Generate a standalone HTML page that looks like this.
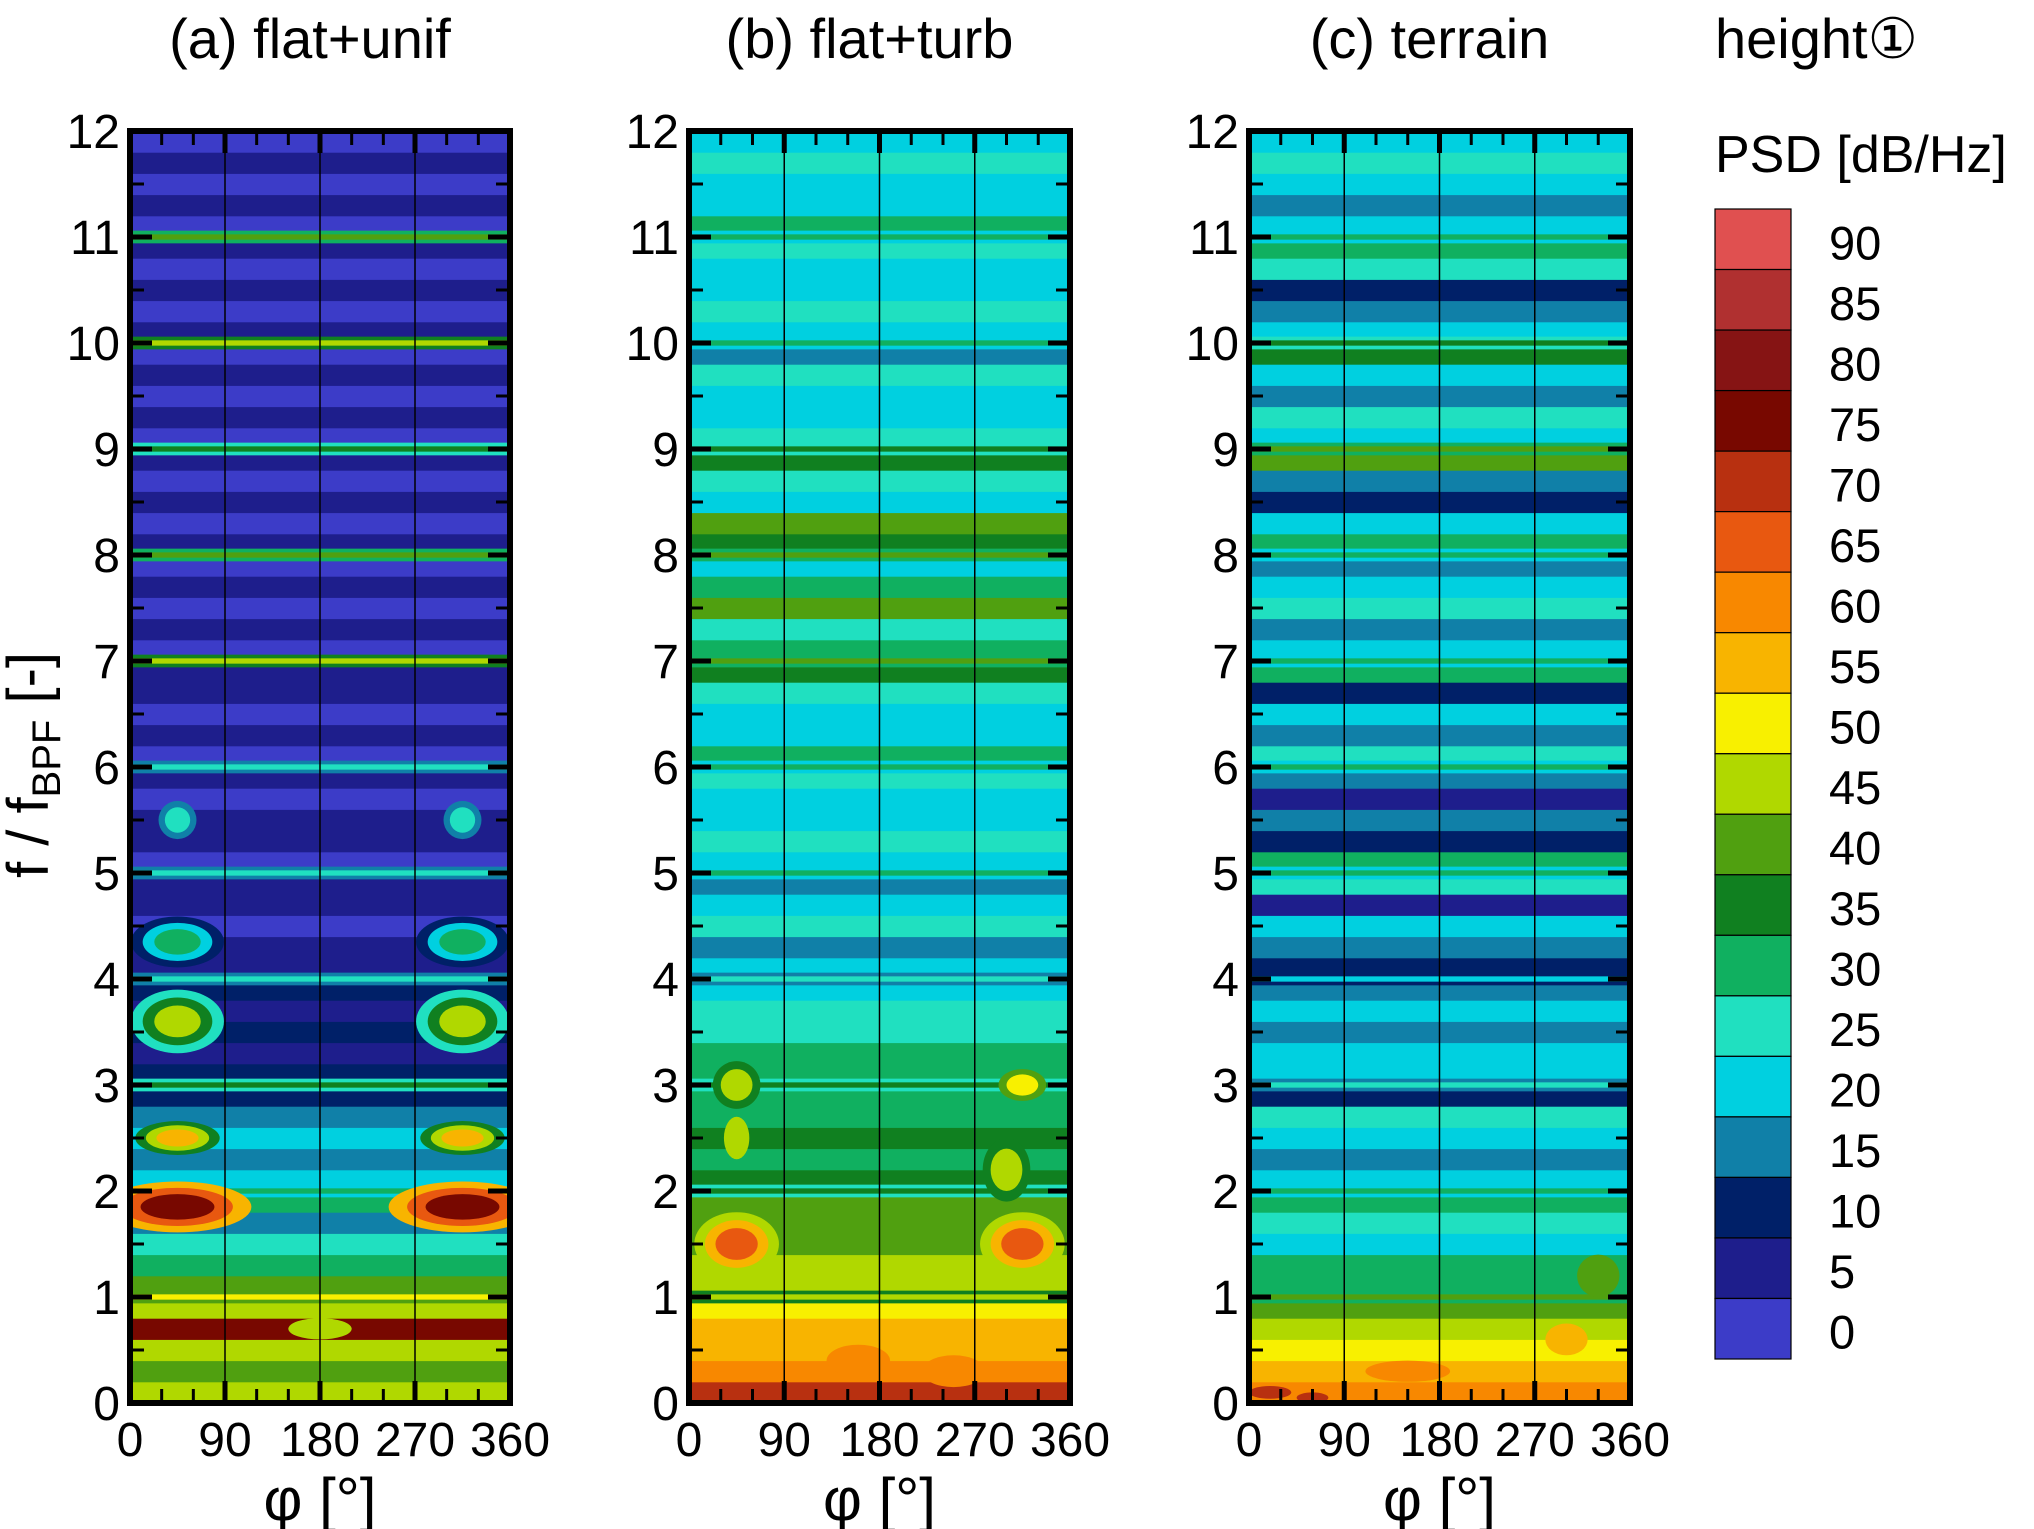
<!DOCTYPE html>
<html><head><meta charset="utf-8"><style>
body{margin:0;background:#fff;}
svg{display:block;font-family:"Liberation Sans",sans-serif;}
</style></head><body>
<svg id="fig" width="2034" height="1529" viewBox="0 0 2034 1529" xmlns="http://www.w3.org/2000/svg">
<defs id="defs"></defs>
<g id="panels"></g>
<g id="cbar"></g>
<text x="1715" y="58" font-size="56">height①</text>
<text x="1715" y="172" font-size="52">PSD [dB/Hz]</text>
<text transform="translate(48,765) rotate(-90)" text-anchor="middle" font-size="58">f / f<tspan font-size="40" dy="12">BPF</tspan><tspan dy="-12"> [-]</tspan></text>
</svg>
<script>
// colour levels (0..90 dB/Hz, step 5)
const levels=[0,5,10,15,20,25,30,35,40,45,50,55,60,65,70,75,80,85,90];
const colors=["#3c3cc8","#1e1e8c","#002068","#1080a8","#00d0e0","#20e0c0","#10b060","#108020","#50a010","#b0d800","#f8f000","#f8b400","#f88800","#e85810","#b83010","#780800","#861414","#b03030","#e05050"];
const titles=["(a) flat+unif","(b) flat+turb","(c) terrain"];
const xTicks=[0,90,180,270,360];
const yTicks=[0,1,2,3,4,5,6,7,8,9,10,11,12];
// base PSD per frequency bin (f = 0..12, step 0.2), bottom to top
const baseA=[45,40,45,75,45,40,30,25,15,30,20,15,20,15,10,10,5,10,5,10,5,5,0,5,5,0,5,5,0,5,0,5,0,5,5,0,5,0,5,0,5,0,5,0,5,0,5,0,5,0,5,0,5,0,5,0,5,0,5,0];
const baseB=[70,60,55,55,50,45,45,40,40,40,35,30,35,30,30,30,30,25,25,20,20,15,25,20,15,20,25,20,20,25,30,20,20,25,35,30,25,40,30,20,35,40,20,25,35,25,20,20,25,15,20,25,20,20,25,30,20,20,25,20];
const baseC=[60,55,50,45,40,30,30,20,25,30,20,15,20,25,10,20,20,15,20,15,10,15,20,5,25,30,10,15,5,15,25,15,20,10,30,20,15,25,20,15,30,20,10,15,40,20,25,15,20,35,20,15,10,25,30,20,15,20,25,20];
// harmonic lines: frequency and level
const harmF=[1,2,3,4,5,6,7,8,9,10,11];
const harmA=[50,30,35,25,25,25,45,40,35,45,40];
const harmB=[45,35,35,25,30,30,40,40,35,30,30];
const harmC=[40,30,25,20,30,30,30,30,40,35,30];
// hotspots: phi (deg), f, level, phi-radius, f-radius
const hotA_phi=[45,315,45,315,45,315,45,315,45,315,180];
const hotA_f=[1.85,1.85,2.5,2.5,3.6,3.6,4.35,4.35,5.5,5.5,0.7];
const hotA_val=[75,75,55,55,45,45,30,30,25,25,45];
const hotA_rp=[35,35,20,20,22,22,22,22,12,12,30];
const hotA_rf=[0.12,0.12,0.08,0.08,0.15,0.15,0.12,0.12,0.12,0.12,0.1];
const hotB_phi=[45,315,315,45,300,45,160,250];
const hotB_f=[1.5,1.5,3.0,3.0,2.2,2.5,0.4,0.3];
const hotB_val=[65,65,50,45,45,45,60,60];
const hotB_rp=[20,20,15,15,15,12,30,30];
const hotB_rf=[0.15,0.15,0.1,0.15,0.2,0.2,0.15,0.15];
const hotC_phi=[20,60,300,330,150];
const hotC_f=[0.1,0.05,0.6,1.2,0.3];
const hotC_val=[70,70,55,40,60];
const hotC_rp=[20,15,20,20,40];
const hotC_rf=[0.06,0.05,0.15,0.2,0.1];

const NS="http://www.w3.org/2000/svg";
const panelsX=[[130,510],[689,1070],[1249,1630]];
const yTop=131,yBot=1403;
const bases=[baseA,baseB,baseC],harms=[harmA,harmB,harmC];
const hots=[[hotA_phi,hotA_f,hotA_val,hotA_rp,hotA_rf],[hotB_phi,hotB_f,hotB_val,hotB_rp,hotB_rf],[hotC_phi,hotC_f,hotC_val,hotC_rp,hotC_rf]];
function col(v){let i=Math.max(0,Math.min(18,Math.floor(v/5)));return colors[i];}
function mk(t,a,p){const e=document.createElementNS(NS,t);for(const k in a)e.setAttribute(k,a[k]);p.appendChild(e);return e;}
const root=document.getElementById('panels');
const defs=document.getElementById('defs');
for(let p=0;p<3;p++){
  const [x0,x1]=panelsX[p];
  const X=phi=>x0+(x1-x0)*phi/360;
  const Y=f=>yBot-(yBot-yTop)*f/12;
  const cp=mk('clipPath',{id:'clip'+p},defs);
  mk('rect',{x:x0,y:yTop,width:x1-x0,height:yBot-yTop},cp);
  const g=mk('g',{},root);
  
  
  const gc=mk('g',{'clip-path':'url(#clip'+p+')'},g);
  const base=bases[p];
  for(let i=0;i<base.length;i++){
    const r=mk('rect',{x:x0,y:Y((i+1)*0.2),width:x1-x0,height:Y(i*0.2)-Y((i+1)*0.2)+0.5,fill:col(base[i])},gc);
    
    
  }
  const h=harms[p];
  for(let i=0;i<harmF.length;i++){
    const f=harmF[i];
    const r1=mk('rect',{x:x0,y:Y(f+0.06),width:x1-x0,height:Y(f-0.06)-Y(f+0.06),fill:col(h[i]-10)},gc);
    
    
    const r2=mk('rect',{x:x0,y:Y(f+0.025),width:x1-x0,height:Y(f-0.025)-Y(f+0.025),fill:col(h[i])},gc);
    
    
  }
  const [hp,hf,hv,hrp,hrf]=hots[p];
  for(let i=0;i<hp.length;i++){
    const bi=Math.min(base.length-1,Math.floor(hf[i]/0.2));
    for(let k=2;k>=0;k--){
      const v=hv[i]-k*10;
      if(k>0 && v<=base[bi]) continue;
      const e=mk('ellipse',{cx:X(hp[i]),cy:Y(hf[i]),rx:(x1-x0)*hrp[i]/360*(1+k*0.5),ry:(yBot-yTop)*hrf[i]/12*(1+k*0.5),fill:col(v)},gc);
      
      
    }
  }
  [90,180,270].forEach(v=>{const l=mk('line',{x1:X(v),x2:X(v),y1:yTop,y2:yBot,stroke:'#000','stroke-width':1.5},g);
    });
  for(let a=0;a<=360;a+=30){const maj=a%90==0;const L=maj?22:14;const w=maj?5:3;
    mk('line',{x1:X(a),x2:X(a),y1:yBot,y2:yBot-L,stroke:'#000','stroke-width':w},g);
    mk('line',{x1:X(a),x2:X(a),y1:yTop,y2:yTop+L,stroke:'#000','stroke-width':w},g);}
  for(let f=0;f<=12;f+=0.5){const maj=f%1==0;const L=maj?22:14;const w=maj?5:3;
    mk('line',{x1:x0,x2:x0+L,y1:Y(f),y2:Y(f),stroke:'#000','stroke-width':w},g);
    mk('line',{x1:x1,x2:x1-L,y1:Y(f),y2:Y(f),stroke:'#000','stroke-width':w},g);}
  const fr=mk('rect',{x:x0,y:yTop,width:x1-x0,height:yBot-yTop,fill:'none',stroke:'#000','stroke-width':6},g);
  
  yTicks.forEach(v=>{const t=mk('text',{x:x0-10,y:Y(v)+17,'text-anchor':'end','font-size':48},g);t.textContent=v;
    });
  xTicks.forEach(v=>{const t=mk('text',{x:X(v),y:1456,'text-anchor':'middle','font-size':48},g);t.textContent=v;
    });
  const xt=mk('text',{x:(x0+x1)/2,y:1520,'text-anchor':'middle','font-size':60},g);xt.textContent='φ [°]';
  
  const tt=mk('text',{x:(x0+x1)/2-10,y:58,'text-anchor':'middle','font-size':56},g);tt.textContent=titles[p];
  
}
const cb=document.getElementById('cbar');
const cTop=209,cBot=1359,segH=(cBot-cTop)/levels.length;
for(let i=0;i<levels.length;i++){
  const idx=levels.length-1-i;
  const r=mk('rect',{x:1715,y:cTop+i*segH,width:76,height:segH,fill:colors[idx],stroke:'#000','stroke-width':1.2},cb);
  
  const t=mk('text',{x:1829,y:cTop+i*segH+segH/2+20,'font-size':47},cb);t.textContent=levels[idx];
  
}
</script>
</body></html>
